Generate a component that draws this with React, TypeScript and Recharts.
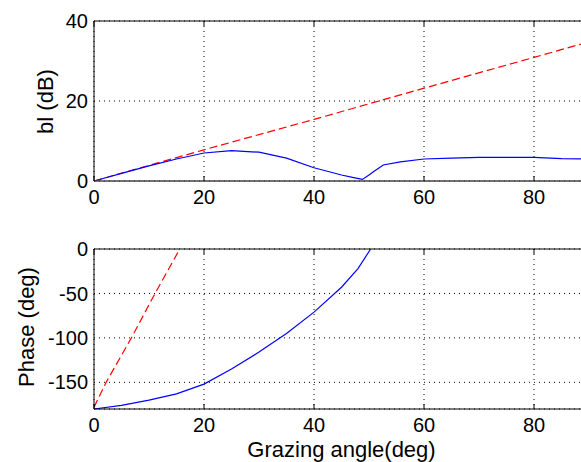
import { CartesianGrid, Line, LineChart, ReferenceLine, XAxis, YAxis } from "recharts"

// top panel: bl (dB) vs grazing angle
const blueTopAngle = [0, 5, 10, 15, 20, 25, 30, 35, 40, 45, 47, 48.8, 50, 50.8, 52.6, 55.7, 60, 65, 70, 80, 85, 90]
const blueTopDb = [0, 1.9, 3.8, 5.5, 7.0, 7.6, 7.2, 5.7, 3.3, 1.5, 0.9, 0.4, 1.5, 2.3, 4.0, 4.8, 5.5, 5.7, 5.9, 5.9, 5.6, 5.5]
const redTopAngle = [0, 20, 40, 60, 80, 90]
const redTopDb = [0, 7.8, 15.4, 23.2, 30.9, 34.8]

// bottom panel: phase (deg)
const blueBotAngle = [0, 5, 10, 15, 20, 25, 30, 35, 40, 45, 48, 50.3]
const blueBotPhase = [-180, -176, -170, -163, -152, -135, -116, -95, -71, -43, -22, 0]
const redBotAngle = [0, 2.2, 6.8, 11.1, 15.6]
const redBotPhase = [-178, -150, -100, -50, 0]

const xTicks = [0, 20, 40, 60, 80]
const topTicks = [0, 20, 40]
const botTicks = [-150, -100, -50, 0]

const toRows = (xs: number[], ys: number[]) => xs.map((x, i) => ({ x, y: ys[i] }))

const PLOT_H = 160
const font = "'Liberation Sans', Arial, sans-serif"

const XTick = (props: any) => {
  const { x, y, payload } = props
  const base = y - 8
  return (
    <g>
      <line x1={x} x2={x} y1={base} y2={base - 5} stroke="#000" />
      <line x1={x} x2={x} y1={base - PLOT_H} y2={base - PLOT_H + 5} stroke="#000" />
      <text x={x} y={base + 9} dy="0.71em" textAnchor="middle" fontSize={20} fill="#000" fontFamily={font}>
        {payload.value}
      </text>
    </g>
  )
}

const yLabel = (text: string, cx: number, cy: number) => () => (
  <text
    x={cx}
    y={cy}
    transform={`rotate(-90, ${cx}, ${cy})`}
    textAnchor="middle"
    dominantBaseline="central"
    fontSize={22}
    fill="#000"
    fontFamily={font}
  >
    {text}
  </text>
)

export default function App() {
  return (
    <div style={{ position: "relative", width: 581, height: 462, overflow: "hidden", fontFamily: font }}>
      <style>{"html, body { margin: 0; padding: 0; overflow: hidden; }"}</style>
      <div style={{ position: "absolute", left: 8, top: 8 }}>
        <LineChart width={591} height={220} margin={{ top: 13, right: 10, bottom: 0, left: 0 }}>
          <CartesianGrid stroke="#000" strokeDasharray="1 4" />
          <XAxis
            type="number"
            dataKey="x"
            domain={[0, 90]}
            ticks={xTicks}
            height={47}
            stroke="#444"
            strokeWidth={1.5}
            tickLine={false}
            tick={<XTick />}
            allowDataOverflow
          />
          <YAxis
            type="number"
            domain={[0, 40]}
            ticks={topTicks}
            width={86}
            stroke="#000"
            tickLine={false}
            tickSize={4}
            tick={{ fill: "#000", fontSize: 20, fontFamily: font }}
            label={yLabel("bl (dB)", 37.5, 93.5)}
          />
          <ReferenceLine y={40} stroke="#000" />
          <Line data={toRows(redTopAngle, redTopDb)} dataKey="y" stroke="#ff0000" strokeWidth={1.2} strokeDasharray="8 4" dot={false} isAnimationActive={false} />
          <Line data={toRows(blueTopAngle, blueTopDb)} dataKey="y" stroke="#0000ff" strokeWidth={1.2} dot={false} isAnimationActive={false} />
        </LineChart>
      </div>
      <div style={{ position: "absolute", left: 8, top: 236 }}>
        <LineChart width={591} height={226} margin={{ top: 13, right: 10, bottom: 0, left: 0 }}>
          <CartesianGrid stroke="#000" strokeDasharray="1 4" />
          <XAxis
            type="number"
            dataKey="x"
            domain={[0, 90]}
            ticks={xTicks}
            height={53}
            stroke="#000"
            tickLine={false}
            tick={<XTick />}
            label={{ value: "Grazing angle(deg)", position: "insideBottom", offset: 5, fontSize: 22, fill: "#000", fontFamily: font }}
            allowDataOverflow
          />
          <YAxis
            type="number"
            domain={[-180, 0]}
            ticks={botTicks}
            width={86}
            stroke="#000"
            tickLine={false}
            tickSize={4}
            tick={{ fill: "#000", fontSize: 20, fontFamily: font }}
            label={yLabel("Phase (deg)", 18.5, 91)}
          />
          <ReferenceLine y={0} stroke="#000" />
          <Line data={toRows(redBotAngle, redBotPhase)} dataKey="y" stroke="#ff0000" strokeWidth={1.2} strokeDasharray="8 4" dot={false} isAnimationActive={false} />
          <Line data={toRows(blueBotAngle, blueBotPhase)} dataKey="y" stroke="#0000ff" strokeWidth={1.2} dot={false} isAnimationActive={false} />
        </LineChart>
      </div>
    </div>
  )
}
